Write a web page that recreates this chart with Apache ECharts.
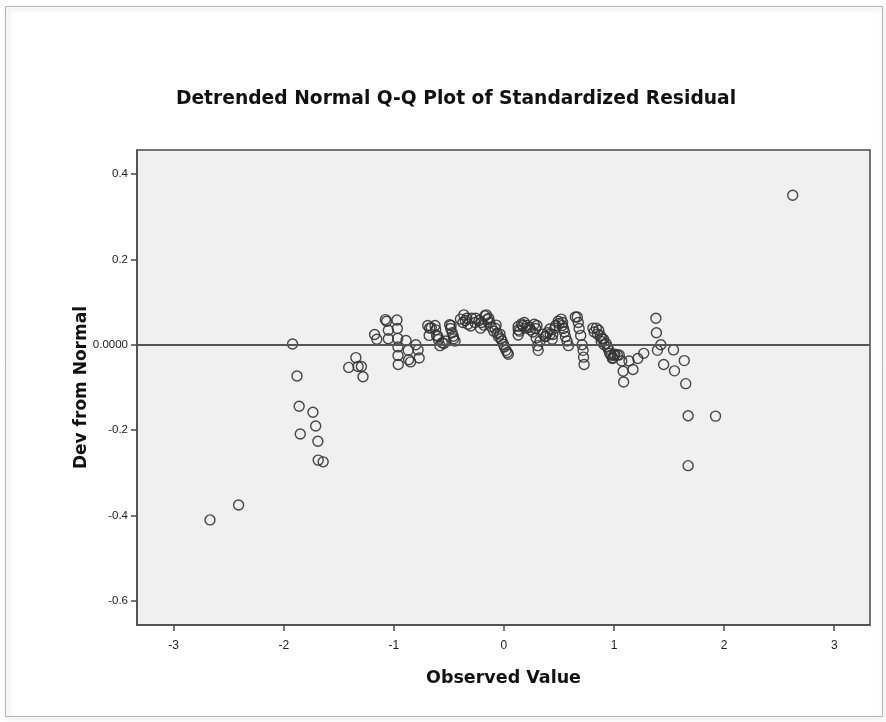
<!DOCTYPE html>
<html>
<head>
<meta charset="utf-8">
<title>Detrended Normal Q-Q Plot</title>
<script src="https://cdn.jsdelivr.net/npm/echarts@6/dist/echarts.min.js"></script>
<style>
  html, body { margin: 0; padding: 0; background: #ffffff; }
  #chart { width: 886px; height: 722px; }
</style>
</head>
<body>
<div id="chart"></div>
<script>
// Observed standardized residuals (x) and their deviation from the normal quantile (y)
const observedValue = [
  -2.67, -2.41, -1.92, -1.88, -1.86, -1.85, -1.735, -1.71, -1.69, -1.687, -1.642,
  -1.41, -1.345, -1.325, -1.295, -1.28, -1.175, -1.155,
  -1.077, -1.066, -1.05, -1.05, -0.972, -0.968, -0.965, -0.963, -0.962, -0.96,
  -0.89, -0.87, -0.866, -0.848, -0.80, -0.78, -0.77,
  -0.692, -0.675, -0.679, -0.66, -0.626, -0.62, -0.612, -0.60, -0.595, -0.581, -0.56, -0.546, -0.528,
  -0.493, -0.484, -0.48, -0.47, -0.46, -0.457, -0.444,
  -0.395, -0.373, -0.364, -0.351, -0.337, -0.328, -0.302, -0.293, -0.262, -0.257, -0.226, -0.213,
  -0.204, -0.182, -0.173, -0.16, -0.151, -0.138, -0.129, -0.115, -0.093, -0.08, -0.071, -0.062,
  -0.049, -0.036, -0.027, -0.018, -0.004, 0.004, 0.018, 0.031, 0.04,
  0.129, 0.129, 0.13, 0.142, 0.16, 0.17, 0.186, 0.204, 0.21, 0.231, 0.24, 0.262, 0.275, 0.288,
  0.293, 0.30, 0.306, 0.311, 0.328, 0.355, 0.373, 0.38, 0.395, 0.417, 0.42, 0.439, 0.444, 0.462,
  0.47, 0.493, 0.50, 0.519, 0.53, 0.533, 0.541, 0.55, 0.559, 0.573, 0.586,
  0.648, 0.666, 0.675, 0.683, 0.697, 0.71, 0.719, 0.723, 0.728,
  0.808, 0.82, 0.839, 0.85, 0.861, 0.875, 0.883, 0.89, 0.905, 0.91, 0.928, 0.94, 0.95, 0.96,
  0.972, 0.985, 0.99, 1.00, 1.007, 1.03, 1.047, 1.07, 1.083, 1.087, 1.136, 1.172, 1.216, 1.27,
  1.38, 1.385, 1.394, 1.425, 1.451, 1.54, 1.549, 1.638, 1.651, 1.673, 1.673, 1.922, 2.623
];
const devFromNormal = [
  -0.410, -0.375, 0.002, -0.073, -0.144, -0.209, -0.158, -0.190, -0.226, -0.270, -0.274,
  -0.053, -0.030, -0.051, -0.051, -0.075, 0.024, 0.013,
  0.059, 0.055, 0.034, 0.014, 0.058, 0.038, 0.015, -0.005, -0.025, -0.046,
  0.010, -0.013, -0.035, -0.040, 0.000, -0.012, -0.031,
  0.045, 0.039, 0.022, 0.040, 0.045, 0.035, 0.022, 0.020, 0.012, -0.002, 0.005, 0.003, 0.009,
  0.047, 0.038, 0.045, 0.028, 0.020, 0.014, 0.009,
  0.060, 0.052, 0.070, 0.057, 0.062, 0.048, 0.044, 0.062, 0.052, 0.062, 0.057, 0.039,
  0.052, 0.046, 0.068, 0.070, 0.059, 0.062, 0.052, 0.042, 0.032, 0.039, 0.046, 0.027,
  0.019, 0.025, 0.014, 0.009, 0.001, -0.005, -0.013, -0.018, -0.022,
  0.043, 0.023, 0.035, 0.032, 0.049, 0.045, 0.052, 0.039, 0.045, 0.041, 0.035, 0.030, 0.048, 0.038,
  0.016, 0.045, -0.002, -0.013, 0.009, 0.025, 0.019, 0.020, 0.028, 0.037, 0.025, 0.013, 0.024, 0.039,
  0.045, 0.055, 0.050, 0.060, 0.045, 0.052, 0.038, 0.030, 0.019, 0.009, -0.002,
  0.065, 0.065, 0.052, 0.038, 0.022, 0.000, -0.013, -0.029, -0.046,
  0.039, 0.030, 0.039, 0.025, 0.034, 0.022, 0.008, 0.015, 0.013, 0.000, 0.003, -0.005, -0.011, -0.020,
  -0.024, -0.032, -0.030, -0.025, -0.022, -0.024, -0.024, -0.038, -0.062, -0.087, -0.038, -0.058, -0.032, -0.020,
  0.062, 0.028, -0.013, 0.000, -0.046, -0.012, -0.061, -0.037, -0.091, -0.166, -0.283, -0.167, 0.350
];

const xTicks = [-3, -2, -1, 0, 1, 2, 3];
const yTicks = [-0.6, -0.4, -0.2, 0, 0.2, 0.4];

const points = observedValue.map((v, i) => [v, devFromNormal[i]]);

const chart = echarts.init(document.getElementById('chart'), null, { renderer: 'canvas' });

const axisColor = '#4a4a4a';
const labelColor = '#222222';
const headFont = '"DejaVu Sans", "Liberation Sans", Arial, sans-serif';
const tickFont = '"Liberation Sans", Arial, sans-serif';

chart.setOption({
  animation: false,
  backgroundColor: '#ffffff',
  graphic: [
    {
      type: 'rect',
      z: -5,
      silent: true,
      shape: { x: 5.5, y: 6.5, width: 877, height: 710 },
      style: {
        fill: 'none',
        stroke: '#b4b4b4',
        lineWidth: 1,
        shadowBlur: 5,
        shadowOffsetX: 2,
        shadowOffsetY: 2,
        shadowColor: 'rgba(0,0,0,0.25)'
      }
    }
  ],
  title: {
    text: 'Detrended Normal Q-Q Plot of Standardized Residual',
    left: 451,
    top: 85,
    textAlign: 'center',
    textStyle: {
      fontFamily: headFont,
      fontWeight: 'bold',
      fontSize: 18.7,
      color: '#111111'
    }
  },
  grid: {
    left: 137,
    right: 16,
    top: 150,
    bottom: 97,
    show: true,
    backgroundColor: '#f0f0f0',
    borderColor: axisColor,
    borderWidth: 1.5
  },
  xAxis: {
    type: 'value',
    min: -3.333,
    max: 3.325,
    name: 'Observed Value',
    nameLocation: 'middle',
    nameGap: 44,
    nameTextStyle: {
      fontFamily: headFont,
      fontWeight: 'bold',
      fontSize: 17.5,
      color: '#111111'
    },
    axisLine: { show: true, onZero: false, lineStyle: { color: axisColor, width: 1.5 } },
    axisTick: { show: true, length: 6, customValues: xTicks, lineStyle: { color: axisColor, width: 1.5 } },
    axisLabel: {
      customValues: xTicks,
      margin: 15,
      fontFamily: tickFont,
      fontSize: 12,
      color: labelColor
    },
    splitLine: { show: false }
  },
  yAxis: {
    type: 'value',
    min: -0.656,
    max: 0.456,
    name: 'Dev from Normal',
    nameLocation: 'middle',
    nameGap: 47,
    nameMoveOverlap: false,
    nameTextStyle: {
      fontFamily: headFont,
      fontWeight: 'bold',
      fontSize: 17,
      color: '#111111'
    },
    axisLine: { show: true, onZero: false, lineStyle: { color: axisColor, width: 1.5 } },
    axisTick: { show: true, length: 6, customValues: yTicks, lineStyle: { color: axisColor, width: 1.5 } },
    axisLabel: {
      customValues: yTicks,
      margin: 9,
      fontFamily: tickFont,
      fontSize: 11.5,
      color: labelColor,
      formatter: v => (Math.abs(v) < 1e-9 ? '0.0000' : v.toFixed(1))
    },
    splitLine: { show: false }
  },
  series: [
    {
      type: 'scatter',
      data: points,
      symbol: 'circle',
      symbolSize: 10,
      itemStyle: {
        color: 'rgba(0,0,0,0)',
        borderColor: '#333333',
        borderWidth: 1.4,
        opacity: 0.9
      },
      emphasis: { disabled: true },
      markLine: {
        silent: true,
        symbol: ['none', 'none'],
        label: { show: false },
        lineStyle: { color: '#555555', width: 2, type: 'solid' },
        data: [{ yAxis: 0 }]
      }
    }
  ]
});
</script>
</body>
</html>
